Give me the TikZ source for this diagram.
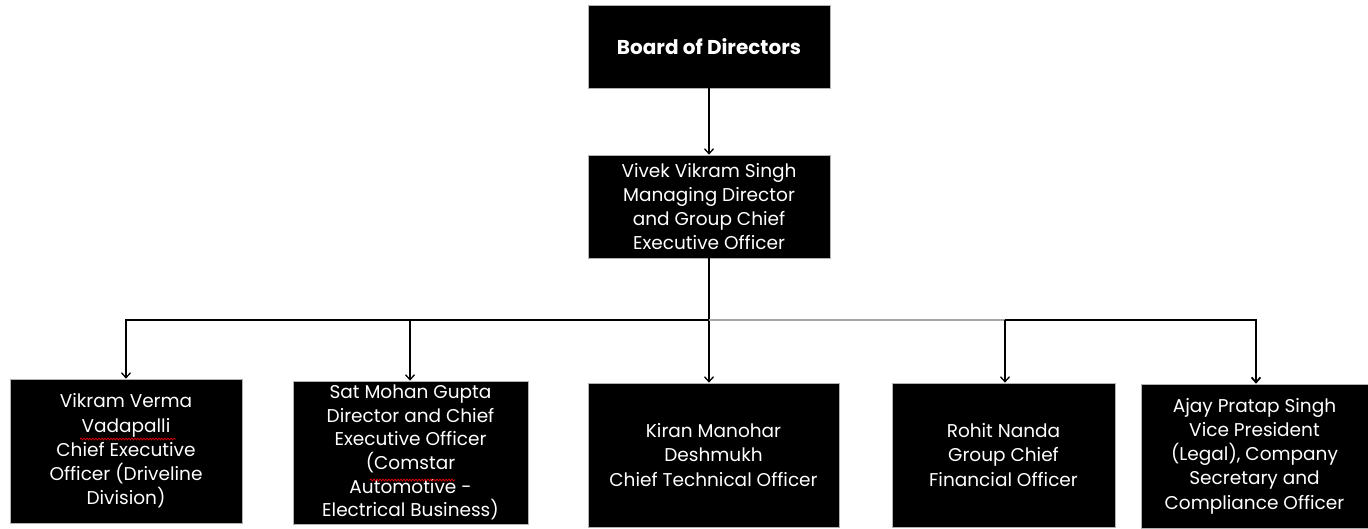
\documentclass[tikz,border=0pt]{standalone}
\usepackage{fontspec}
\setmainfont{Poppins}
\usetikzlibrary{arrows.meta,decorations.pathmorphing}
\begin{document}
\begin{tikzpicture}[x=1pt,y=-1pt,
  box/.style={rectangle, fill=black, draw=gray!60, line width=0.6pt, text=white, align=center, inner sep=0pt,
    font=\fontsize{18.5}{24.3}\selectfont},
  conn/.style={line width=1.3pt, -{Straight Barb[length=5pt,width=9pt]}},
  bar/.style={line width=1.3pt},
  spell/.style={red!85!black, line width=0.8pt, decorate, decoration={snake, segment length=3pt, amplitude=0.9pt}}]
\useasboundingbox (0,0) rectangle (1368,529);
\node[box, minimum width=242, minimum height=83, font=\bfseries\fontsize{20}{24}\selectfont] (bod) at (709,46.5) {Board of Directors};
\node[box, minimum width=242, minimum height=103] (ceo) at (709,206.5) {Vivek Vikram Singh\\Managing Director\\and Group Chief\\Executive Officer};
\node[box, minimum width=232, minimum height=144] (c1) at (126,451) {Vikram Verma\\Vadapalli\\Chief Executive\\Officer (Driveline\\Division)};
\node[box, minimum width=235, minimum height=143, font=\fontsize{18.5}{23.6}\selectfont] (c2) at (410.5,452.5) {Sat Mohan Gupta\\Director and Chief\\Executive Officer\\(Comstar\\Automotive -\\Electrical Business)};
\node[box, minimum width=251, minimum height=144] (c3) at (713.5,455) {Kiran Manohar\\Deshmukh\\Chief Technical Officer};
\node[box, minimum width=223, minimum height=144] (c4) at (1003.5,455) {Rohit Nanda\\Group Chief\\Financial Officer};
\node[box, minimum width=227, minimum height=144] (c5) at (1254.5,456) {Ajay Pratap Singh\\Vice President\\(Legal), Company\\Secretary and\\Compliance Officer};
\coordinate (bus) at (0,320);
\coordinate (j4) at (1005,320);
\coordinate (j5) at (1256,320);
\draw[conn] (bod.south) -- (ceo.north);
\draw[conn] (ceo.south) -- (ceo.south |- bus) -| (c1.north);
\draw[conn] (ceo.south |- bus) -| ([xshift=-0.5pt]c2.north);
\draw[conn] (ceo.south |- bus) -- (ceo.south |- c3.north);
\draw[bar, gray!70] (ceo.south |- bus) -- (j4);
\draw[conn] (j4) -- (j4 |- c4.north);
\draw[conn, line width=1.8pt] (j4) -- (j5) -- (j5 |- c5.north);
\draw[spell] (80,439) -- (176,439);
\draw[spell] (370,480) -- (455,480);
\end{tikzpicture}
\end{document}
